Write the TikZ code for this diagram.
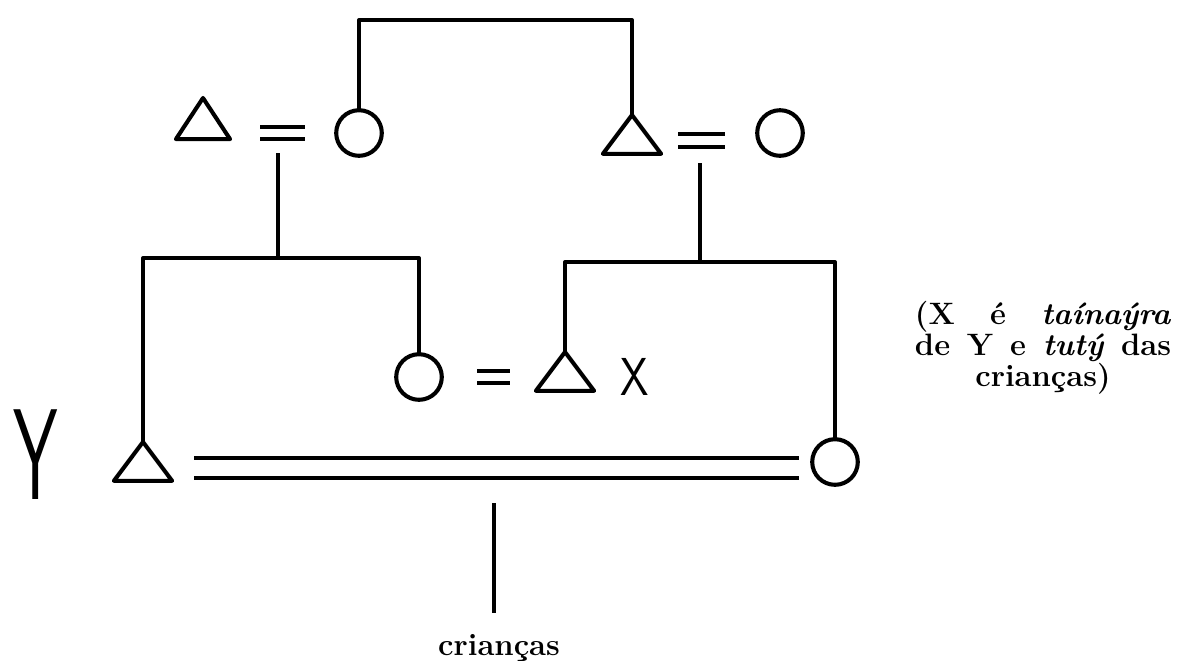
\documentclass[tikz,border=0pt]{standalone}
\usepackage{fontspec}
\usetikzlibrary{shapes.geometric,positioning}

\begin{document}
\begin{tikzpicture}[x=0.025cm, y=-0.025cm, line width=2.9pt, line join=round,
  male/.style={regular polygon, regular polygon sides=3, draw, minimum size=1.68cm, inner sep=0pt, outer sep=0pt, yscale=0.77, anchor=north},
  female/.style={circle, draw, minimum size=1.14cm, inner sep=0pt, outer sep=0pt},
  wed/.style={double, double distance=0.22cm, line width=2.9pt, line cap=butt},
  hand/.style={font=\sffamily\fontsize{38}{38}\selectfont, inner sep=0pt},
  note/.style={align=center, font=\bfseries\fontsize{22}{17.8}\selectfont}]
\useasboundingbox (0,0) rectangle (1177,660);

\node (fa) [male, minimum size=1.56cm, yscale=1.14] at (203,98) {};
\node (ma) [female] at (359,133) {};
\node (fb) [male] at (632,115) {};
\node (mb) [female] at (780,133) {};
\node (wx) [female] at (419,377) {};
\node (tX) [male] at (565,352) {};
\node (tY) [male] at (143,442) {};
\node (wy) [female] at (835,462) {};

\node (ylab) [hand, font=\sffamily\fontsize{92}{92}\selectfont, xscale=0.55] at (36,455) {Y};
\node (xlab) [hand, xscale=0.85] at (635,377) {X};
\node (note) [note] at (1043,348) {\makebox[6.4cm][s]{(X é \textit{taínaýra}}\\ \makebox[6.4cm][s]{de Y e \textit{tutý} das}\\ crianças)};

\coordinate (sib) at (496,20);
\coordinate (ma1) at (278,153);
\coordinate (kidsa) at (278,258);
\coordinate (mb1) at (700,163);
\coordinate (kidsb) at (700,262);
\coordinate (my1) at (494,503);
\coordinate (kids) at (494,613);
\node (criancas) [font=\bfseries\fontsize{22}{26}\selectfont, anchor=base] at (499,655) {crianças};

\draw (ma.north) |- (sib) -| (fb.north);
\draw[wed, shorten <=1.425cm, shorten >=1.35cm] (fa.center |- ma.center) -- (ma.center);
\draw[wed, shorten <=1.15cm, shorten >=1.375cm] (fb.center) -- (fb.center -| mb.center);
\draw[wed, shorten <=1.45cm, shorten >=1.375cm] (wx.center) -- (wx.center -| tX.center);
\draw[wed, double distance=0.395cm, shorten <=1.275cm, shorten >=0.9cm] (tY.center) -- (tY.center -| wy.center);

\draw (ma1) -- (kidsa);
\draw (tY.north) |- (kidsa) -| (wx.north);
\draw (mb1) -- (kidsb);
\draw (tX.north) |- (kidsb) -| (wy.north);
\draw (my1) -- (kids);

\end{tikzpicture}
\end{document}
